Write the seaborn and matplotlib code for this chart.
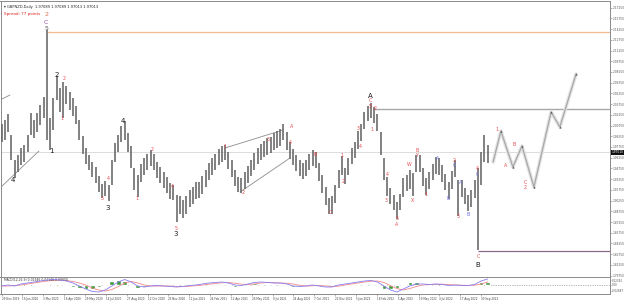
import numpy as np
import pandas as pd
import matplotlib
matplotlib.use("Agg")
import matplotlib.pyplot as plt
import seaborn as sns

# ---------------- data ----------------
title_text = "\u25BE GBPNZD,Daily  1.97089 1.97089 1.97013 1.97013"
spread_text = "Spread: 77 points"

# weekly highs / lows (price)
week_high = [2.0097, 2.0153, 2.0237, 1.9943, 1.9593, 1.9663, 1.9761, 1.9803, 1.9943, 2.0251,
             2.0153, 2.0251, 2.0363, 2.0475, 2.1413, 2.0181, 2.0461, 2.0769, 2.0601, 2.0685,
             2.0629, 2.0545, 2.0461, 2.0349, 2.0153, 1.9929, 1.9761, 1.9663, 1.9565, 1.9495,
             1.9369, 1.9257, 1.9299, 1.9243, 1.9593, 1.9831, 1.9943, 2.0069, 2.0139, 1.9971,
             1.9789, 1.9481, 1.9383, 1.9537, 1.9621, 1.9677, 1.9733, 1.9677, 1.9565, 1.9495,
             1.9425, 1.9355, 1.9271, 1.9243, 1.9103, 1.9089, 1.9033, 1.9089, 1.9173, 1.9215,
             1.9285, 1.9285, 1.9369, 1.9453, 1.9551, 1.9621, 1.9677, 1.9747, 1.9789, 1.9803,
             1.9705, 1.9593, 1.9453, 1.9355, 1.9341, 1.9425, 1.9509, 1.9593, 1.9691, 1.9761,
             1.9817, 1.9859, 1.9901, 1.9915, 1.9971, 1.9999, 2.0027, 2.0097, 1.9985, 1.9845,
             1.9747, 1.9663, 1.9593, 1.9551, 1.9593, 1.9677, 1.9733, 1.9705, 1.9551, 1.9383,
             1.9215, 1.9061, 1.9089, 1.9243, 1.9453, 1.9649, 1.9481, 1.9621, 1.9761, 1.9845,
             1.9999, 2.0097, 2.0265, 2.0349, 2.0391, 2.0335, 2.0237, 1.9985, 1.9621, 1.9355,
             1.9201, 1.9103, 1.9005, 1.9117, 1.9341, 1.9383, 1.9453, 1.9411, 1.9663, 1.9663,
             1.9481, 1.9341, 1.9425, 1.9537, 1.9635, 1.9621, 1.9523, 1.9397, 1.9285, 1.9439,
             1.9593, 1.9313, 1.9313, 1.9201, 1.9103, 1.9173, 1.9313, 1.9481, 1.9705, 1.9943,
             1.9803]
week_low = [1.9845, 1.9873, 1.9985, 1.9593, 1.9341, 1.9425, 1.9523, 1.9565, 1.9705, 1.9943,
            1.9901, 1.9985, 2.0083, 2.0181, 1.9873, 1.9733, 2.0013, 2.0433, 2.0265, 2.0181,
            2.0377, 2.0293, 2.0209, 2.0097, 1.9873, 1.9677, 1.9537, 1.9453, 1.9355, 1.9271,
            1.9145, 1.9061, 1.9089, 1.9019, 1.9243, 1.9565, 1.9705, 1.9845, 1.9873, 1.9705,
            1.9481, 1.9173, 1.9075, 1.9285, 1.9383, 1.9453, 1.9509, 1.9453, 1.9341, 1.9271,
            1.9201, 1.9131, 1.9047, 1.9033, 1.8725, 1.8837, 1.8781, 1.8837, 1.8935, 1.8977,
            1.9047, 1.9061, 1.9117, 1.9215, 1.9313, 1.9383, 1.9453, 1.9523, 1.9565, 1.9593,
            1.9467, 1.9355, 1.9229, 1.9145, 1.9131, 1.9187, 1.9271, 1.9369, 1.9453, 1.9537,
            1.9593, 1.9635, 1.9663, 1.9691, 1.9733, 1.9761, 1.9789, 1.9873, 1.9733, 1.9607,
            1.9523, 1.9439, 1.9369, 1.9327, 1.9369, 1.9453, 1.9509, 1.9481, 1.9299, 1.9131,
            1.8963, 1.8837, 1.8837, 1.8991, 1.9201, 1.9383, 1.9257, 1.9383, 1.9537, 1.9621,
            1.9747, 1.9859, 2.0027, 2.0139, 2.0181, 2.0111, 1.9999, 1.9663, 1.9313, 1.9089,
            1.8977, 1.8893, 1.8767, 1.8893, 1.9075, 1.9159, 1.9187, 1.9089, 1.9425, 1.9425,
            1.9229, 1.9103, 1.9187, 1.9313, 1.9397, 1.9383, 1.9285, 1.9173, 1.9047, 1.9187,
            1.9355, 1.8809, 1.9075, 1.8977, 1.8879, 1.8935, 1.9061, 1.8333, 1.9243, 1.9565,
            1.9551]
last_price = 1.9701

date_labels = ["29 Nov 2019", "16 Jan 2020", "3 Mar 2020", "16 Apr 2020", "29 May 2020",
               "14 Jul 2020", "27 Aug 2020", "12 Oct 2020", "25 Nov 2020", "11 Jan 2021",
               "24 Feb 2021", "12 Apr 2021", "26 May 2021", "9 Jul 2021", "24 Aug 2021",
               "7 Oct 2021", "22 Nov 2021", "5 Jan 2022", "18 Feb 2022", "5 Apr 2022",
               "19 May 2022", "4 Jul 2022", "17 Aug 2022", "30 Sep 2022"]
price_ticks = [2.1725, 2.1575, 2.1425, 2.1275, 2.1125, 2.0975, 2.0825, 2.0675, 2.0525,
               2.0375, 2.0225, 2.0075, 1.9925, 1.9775, 1.9625, 1.9475, 1.9325, 1.9175,
               1.9025, 1.8875, 1.8725, 1.8575, 1.8425, 1.8275, 1.8125, 1.7975]

# oscillator (every 2 weeks)
osc_main = [-0.0045, 0, -0.0045, 0.0045, 0.009, 0.0135, 0.018, 0.0225, 0.0248, 0.0225,
            0.018, 0.009, -0.0045, -0.018, -0.0293, -0.0315, -0.0225, -0.0045, 0.0135, 0.0248,
            0.0135, -0.0045, -0.009, -0.0045, -0.0023, -0.0045, -0.0068, -0.009, -0.0068, -0.0023,
            0, 0.0045, 0.009, 0.0113, 0.0135, 0.009, 0, -0.0023, 0.0045, 0.0113,
            0.0135, 0.0113, 0.009, 0.009, 0.0045, -0.0045, -0.0068, -0.0045, 0, -0.0045,
            -0.009, -0.009, 0, 0.0045, 0.009, 0.0135, 0.018, 0.0203, 0.0135, -0.0045,
            -0.0225, -0.0315, -0.018, -0.0045, 0.0045, 0.0045, 0.0023, 0.0045, 0.0023, -0.0023,
            0, -0.0023, -0.0023, 0.0023, 0.018, 0.027]
osc_signal = [-0.0045, -0.0045, -0.0023, 0, 0.0045, 0.009, 0.0135, 0.018, 0.0203, 0.0225,
              0.0203, 0.0158, 0.009, 0, -0.0135, -0.0225, -0.027, -0.0203, -0.0068, 0.009,
              0.0158, 0.009, 0, -0.0045, -0.0045, -0.0045, -0.0045, -0.0068, -0.0068, -0.0054,
              -0.0032, 0, 0.0036, 0.0068, 0.0099, 0.0113, 0.0081, 0.0036, 0.0023, 0.0045,
              0.009, 0.0113, 0.0104, 0.009, 0.0081, 0.0045, -0.0014, -0.0045, -0.0036, -0.0023,
              -0.0045, -0.0068, -0.0054, 0, 0.0045, 0.009, 0.0135, 0.0171, 0.018, 0.0113,
              -0.0023, -0.0158, -0.0225, -0.0158, -0.0068, 0, 0.0023, 0.0032, 0.0036, 0.0014,
              0, -0.0009, -0.0018, -0.0009, 0.0045, 0.0135]
osc_text = "MACD(12,26,9) 0.01946 0.01146 0.00800"
osc_ticks = [0.0225, 0.0, -0.027]
osc_tick_labels = ["0.02292", "0.00", "-0.02687"]

# projected path (week index, price)
proj_week = [151.7, 154.1, 157.8, 160.6, 164.3, 169.6, 172.3, 177.3]
proj_price = [1.9565, 1.9999, 1.9495, 1.9789, 1.9215, 2.0265, 2.0055, 2.0797]

# horizontal levels
level_orange = 2.1385
level_top_a = 2.0307
level_b_low = 1.8319

# ---------------- layout helpers ----------------
W, H = 625, 301
PX_W = 3.24       # px per week
X0 = 1.6
Y_TOP_PRICE = 2.1833
PX_P = 0.0014     # price per px


def at(xp, yp):
    """pixel position -> (week, price) for annotations"""
    return (xp - X0) / PX_W, Y_TOP_PRICE - PX_P * yp


def frac(x0, y0, x1, y1):
    return [x0 / W, 1 - y1 / H, (x1 - x0) / W, (y1 - y0) / H]


sns.set_theme(style="white")
plt.rcParams["font.family"] = ["DejaVu Sans"]

fig = plt.figure(figsize=(W / 100, H / 100), dpi=100)
ax = fig.add_axes(frac(0.5, 0.5, 610, 277))
axo = fig.add_axes(frac(0.5, 277, 610, 294))

xmin, xmax = at(0.5, 0)[0], at(610, 0)[0]
for a in (ax, axo):
    a.set_xlim(xmin, xmax)
    a.set_facecolor("white")
    for s in a.spines.values():
        s.set_color("#8a8a8a")
        s.set_linewidth(0.7)

ax.set_ylim(Y_TOP_PRICE - PX_P * 277, Y_TOP_PRICE - PX_P * 0.5)

weeks = np.arange(len(week_high))
df = pd.DataFrame({"week": weeks, "high": week_high, "low": week_low})

# horizontal lines
ax.axhline(last_price, color="#dcdcdc", lw=0.7, zorder=1)
ax.hlines(level_orange, at(47, 0)[0], xmax, color="#f3b98f", lw=0.9, zorder=1)
ax.hlines(level_top_a, at(373, 0)[0], xmax, color="#a8a8a8", lw=1.0, zorder=1)
ax.hlines(level_b_low, at(478, 0)[0], xmax, color="#8a6a8a", lw=0.9, zorder=1)

# trend lines
for (x1, y1, x2, y2) in [(0, 100, 10, 95), (0, 188, 39, 151), (225, 148, 283, 130), (240, 192, 290, 158)]:
    p1, p2 = at(x1, y1), at(x2, y2)
    ax.plot([p1[0], p2[0]], [p1[1], p2[1]], color="#8c8c8c", lw=0.6, zorder=2)

# bars
ax.vlines(df["week"], df["low"], df["high"], color="#666666", lw=1.15, zorder=3)

# projection path with shadow
proj = pd.DataFrame({"week": proj_week, "price": proj_price})
sns.lineplot(data=proj, x="week", y="price", ax=ax, color="#e4e4e4", lw=2.6,
             sort=False, zorder=2)
sns.lineplot(data=proj, x="week", y="price", ax=ax, color="#a8a8a8", lw=0.9,
             sort=False, zorder=3)
ax.scatter(proj_week[1:], proj_price[1:], s=2.5, color="#555555", zorder=4, marker="^",
           linewidths=0)

# labels
black = "#1a1a1a"
red = "#e5484d"
blue = "#6b6bdc"
labels = [
    (57, 75, "2", black, 5.0), (51, 151, "1", black, 5.0), (13, 180, "4", black, 5.0),
    (108, 208, "3", black, 5.0), (123, 121, "4", black, 5.0), (370, 96, "A", black, 5.0),
    (478, 265, "B", black, 5.0), (176, 234, "3", black, 5.0),
    (46, 15, "2", "#e0704a", 4.5), (46, 22, "C", "#9a4aa8", 4.5), (46, 29, "5", "#555555", 4.5),
    (64, 79, "2", red, 3.4), (62, 118, "1", red, 3.4), (108, 178, "4", red, 3.4),
    (102, 199, "5", red, 3.4), (137, 198, "1", red, 3.4), (152, 150, "2", red, 3.4),
    (172, 187, "4", red, 3.4), (176, 228, "5", red, 3.4), (225, 147, "1", red, 3.4),
    (243, 193, "2", red, 3.4), (268, 140, "3", red, 3.4), (292, 127, "A", red, 3.4),
    (290, 143, "4", red, 3.4), (315, 154, "B", red, 3.4), (330, 213, "C", red, 3.4),
    (342, 156, "1", red, 3.4), (343, 182, "2", red, 3.4), (358, 129, "3", red, 3.4),
    (360, 147, "4", red, 3.4), (370, 101, "C", red, 3.4), (370, 106, "5", red, 3.4),
    (375, 109, "2", red, 3.4), (372, 130, "1", red, 3.4), (387, 175, "4", red, 3.4),
    (386, 200, "3", red, 3.4), (397, 219, "5", red, 3.4), (397, 224, "A", red, 3.4),
    (409, 164, "W", red, 3.4), (412, 200, "X", red, 3.4), (417, 151, "B", red, 3.4),
    (417, 156, "Y", red, 3.4), (426, 194, "1", red, 3.4), (454, 161, "2", red, 3.4),
    (458, 217, "3", red, 3.4), (477, 169, "4", red, 3.4), (478, 256, "C", red, 3.4),
    (497, 130, "1", red, 3.4), (506, 166, "A", red, 3.4), (514, 145, "B", red, 3.4),
    (525, 183, "C", red, 3.4), (525, 188, "2", red, 3.4),
    (438, 159, "A", blue, 3.4), (448, 198, "B", blue, 3.4), (454, 166, "C", blue, 3.4),
    (461, 183, "A", blue, 3.4), (468, 215, "B", blue, 3.4), (477, 175, "C", blue, 3.4),
]
for xp, yp, t, c, fs in labels:
    xw, yv = at(xp, yp)
    ax.text(xw, yv, t, color=c, fontsize=fs, ha="center", va="center", zorder=6)

# title texts
ax.text(0.006, 0.985, title_text, transform=ax.transAxes, fontsize=2.6, color="#222222",
        ha="left", va="top")
ax.text(0.006, 0.958, spread_text, transform=ax.transAxes, fontsize=3.0, color="#e02020",
        ha="left", va="top")

# right price axis
ax.yaxis.tick_right()
ax.set_yticks(price_ticks)
ax.set_yticklabels([f"{v:.5f}" for v in price_ticks], fontsize=2.05, color="#555555")
ax.tick_params(axis="y", length=1.2, width=0.4, color="#777777", pad=0.6, right=True, left=False)
ax.set_xticks([])
ax.set_xlabel("")
ax.set_ylabel("")
ax.text(1.003, last_price, f"{last_price:.5f}", transform=ax.get_yaxis_transform(),
        fontsize=2.05, color="white", ha="left", va="center",
        bbox=dict(boxstyle="square,pad=0.12", fc="#111111", ec="none"), clip_on=False)

# oscillator
osc_weeks = np.arange(0, 2 * len(osc_main), 2)
osc = pd.DataFrame({"week": osc_weeks, "main": osc_main, "signal": osc_signal})
osc["hist"] = osc["main"] - osc["signal"]
axo.set_ylim(-0.0405, 0.036)
axo.axhline(0, color="#777777", lw=0.5, ls=(0, (1, 1.5)), zorder=1)
axo.bar(osc["week"], osc["hist"], width=1.4, color="#3c9a3c", zorder=2)
sns.lineplot(data=osc, x="week", y="signal", ax=axo, color="#f08a8a", lw=0.6, zorder=3)
sns.lineplot(data=osc, x="week", y="main", ax=axo, color="#8a7cf0", lw=0.6, zorder=4)
axo.text(0.006, 0.93, osc_text, transform=axo.transAxes, fontsize=2.2, color="#333333",
         ha="left", va="top")
axo.yaxis.tick_right()
axo.set_yticks(osc_ticks)
axo.set_yticklabels(osc_tick_labels, fontsize=2.0, color="#555555")
axo.tick_params(axis="y", length=1.0, width=0.4, color="#777777", pad=0.6, right=True, left=False)
axo.set_xlabel("")
axo.set_ylabel("")
date_pos = np.linspace(0, 148, len(date_labels))
axo.set_xticks(date_pos)
axo.set_xticklabels(date_labels, fontsize=2.0, color="#444444", ha="left")
axo.tick_params(axis="x", length=1.5, width=0.4, color="#777777", pad=0.8, bottom=True)

fig.savefig("out.png", dpi=100, facecolor="white")
